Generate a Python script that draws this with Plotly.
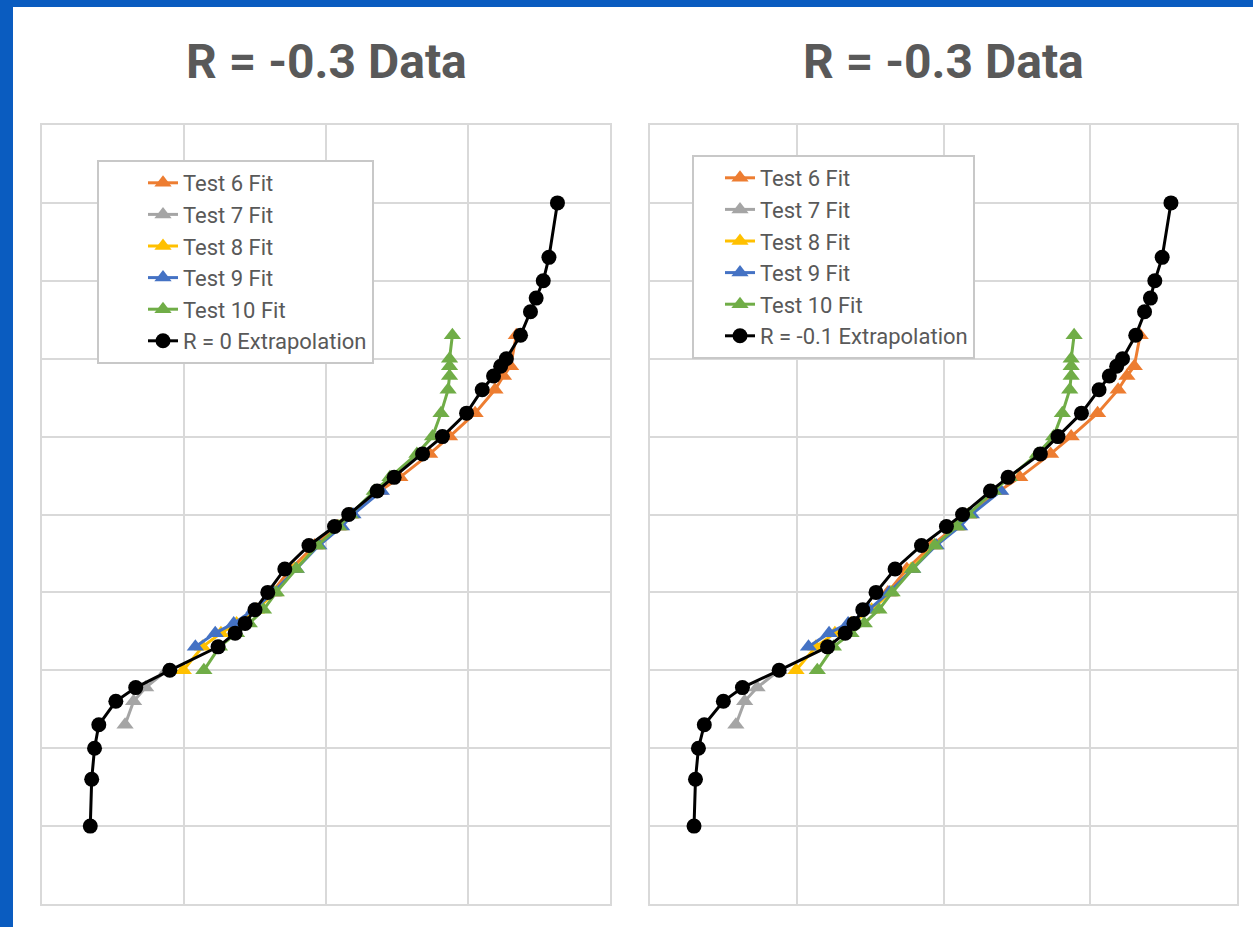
import plotly.graph_objects as go

# ---- data (y values on a log axis, x values in chart units) ----
y_ext = [1e1, 4e1, 1e2, 2e2, 4e2, 6e2, 1e3, 2e3, 3e3, 4e3, 6e3, 1e4, 2e4, 4e4, 7e4, 1e5,
         2e5, 3e5, 6e5, 1e6, 2e6, 4e6, 6e6, 8e6, 1e7, 2e7, 4e7, 6e7, 1e8, 2e8, 1e9]
x_ext_r0 = [0.34, 0.35, 0.37, 0.40, 0.52, 0.66, 0.90, 1.24, 1.36, 1.43, 1.50, 1.59, 1.71, 1.88,
            2.06, 2.16, 2.36, 2.48, 2.68, 2.82, 2.99, 3.10, 3.18, 3.23, 3.27, 3.37, 3.44, 3.48,
            3.53, 3.57, 3.63]
x_ext_rm01 = [0.30, 0.31, 0.33, 0.37, 0.50, 0.63, 0.88, 1.21, 1.33, 1.39, 1.45, 1.54, 1.67, 1.85,
              2.02, 2.13, 2.32, 2.44, 2.66, 2.78, 2.94, 3.06, 3.13, 3.18, 3.22, 3.31, 3.37, 3.41,
              3.44, 3.49, 3.55]

t6_y = [1e4, 2e4, 4e4, 7e4, 1e5, 2e5, 3e5, 6e5, 1e6, 2e6, 4e6, 6e6, 8e6, 2e7]
t6_x = [1.62, 1.75, 1.92, 2.08, 2.17, 2.38, 2.52, 2.73, 2.87, 3.05, 3.19, 3.25, 3.30, 3.34]

t7_y = [2e2, 4e2, 6e2, 1e3]
t7_x = [0.585, 0.645, 0.73, 0.88]

t8_y = [1e3, 2e3, 3e3, 4e3, 6e3, 1e4, 2e4, 4e4, 7e4, 1e5]
t8_x = [0.995, 1.13, 1.26, 1.37, 1.51, 1.64, 1.78, 1.94, 2.10, 2.18]

t9_y = [2e3, 3e3, 4e3, 6e3, 1e4, 2e4, 4e4, 7e4, 1e5, 2e5]
t9_x = [1.08, 1.22, 1.35, 1.49, 1.63, 1.79, 1.95, 2.11, 2.19, 2.39]

t10_y = [1e3, 2e3, 3e3, 4e3, 6e3, 1e4, 2e4, 4e4, 7e4, 1e5, 2e5, 3e5, 6e5, 1e6, 2e6, 4e6,
         6e6, 8e6, 1e7, 2e7]
t10_x = [1.14, 1.25, 1.37, 1.46, 1.56, 1.65, 1.79, 1.94, 2.09, 2.17, 2.34, 2.45, 2.64, 2.75,
         2.81, 2.86, 2.87, 2.87, 2.87, 2.89]

fit_names = ["Test 6 Fit", "Test 7 Fit", "Test 8 Fit", "Test 9 Fit", "Test 10 Fit"]
fit_colors = ["#ED7D31", "#A5A5A5", "#FFC000", "#4472C4", "#70AD47"]
fits_x = [t6_x, t7_x, t8_x, t9_x, t10_x]
fits_y = [t6_y, t7_y, t8_y, t9_y, t10_y]

titles = ["R = -0.3 Data", "R = -0.3 Data"]
ext_names = ["R = 0 Extrapolation", "R = -0.1 Extrapolation"]
ext_x = [x_ext_r0, x_ext_rm01]

W, H = 1253, 927
fig = go.Figure()

panels = [
    dict(xa="x", ya="y", leg="legend", xd=[42 / W, 610 / W]),
    dict(xa="x2", ya="y2", leg="legend2", xd=[650 / W, 1237 / W]),
]

for i, p in enumerate(panels):
    for name, col, fx, fy in zip(fit_names, fit_colors, fits_x, fits_y):
        fig.add_trace(go.Scatter(
            x=fx, y=fy, name=name, mode="lines+markers",
            line=dict(color=col, width=3),
            marker=dict(symbol="triangle-up", size=15, color=col),
            xaxis=p["xa"], yaxis=p["ya"], legend=p["leg"]))
    fig.add_trace(go.Scatter(
        x=ext_x[i], y=y_ext, name=ext_names[i], mode="lines+markers",
        line=dict(color="black", width=3),
        marker=dict(symbol="circle", size=15, color="black"),
        xaxis=p["xa"], yaxis=p["ya"], legend=p["leg"]))

ydom = [(H - 904) / H, (H - 125) / H]
axis_common = dict(showgrid=True, gridcolor="#D9D9D9", gridwidth=2, zeroline=False,
                   showline=True, mirror=True, linecolor="#D9D9D9", linewidth=2,
                   showticklabels=False, ticks="")

legend_common = dict(bgcolor="white", bordercolor="#C8C8C8", borderwidth=2,
                     font=dict(family="Roboto", size=22, color="#595959"),
                     xanchor="left", yanchor="top", tracegroupgap=0)

fig.update_layout(
    width=W, height=H,
    margin=dict(l=0, r=0, t=0, b=0),
    paper_bgcolor="#0A5CC0",
    plot_bgcolor="white",
    showlegend=True,
    xaxis=dict(domain=panels[0]["xd"], range=[0, 4], dtick=1, anchor="y", **axis_common),
    yaxis=dict(domain=ydom, type="log", range=[0, 10], dtick=1, anchor="x", **axis_common),
    xaxis2=dict(domain=panels[1]["xd"], range=[0, 4], dtick=1, anchor="y2", **axis_common),
    yaxis2=dict(domain=ydom, type="log", range=[0, 10], dtick=1, anchor="x2", **axis_common),
    legend=dict(x=97 / W, y=(H - 160) / H, indentation=44, **legend_common),
    legend2=dict(x=692 / W, y=(H - 155) / H, indentation=26, **legend_common),
    shapes=[dict(type="rect", xref="paper", yref="paper", x0=13 / W, x1=1.0,
                 y0=0, y1=(H - 7) / H, fillcolor="white", line=dict(width=0),
                 layer="below")],
)

centers = [326 / W, 943 / W]
for c, t in zip(centers, titles):
    fig.add_annotation(text="<b>" + t + "</b>", x=c, y=(H - 61) / H, xref="paper", yref="paper",
                       xanchor="center", yanchor="middle", showarrow=False,
                       font=dict(family="Roboto", size=48, color="#595959"))

fig.write_html("out.html")
